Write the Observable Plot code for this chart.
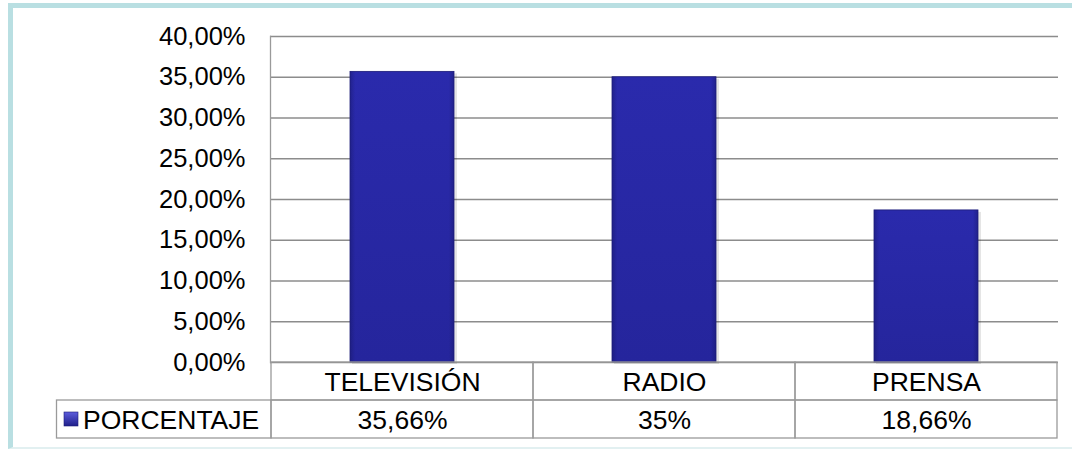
<!DOCTYPE html>
<html><head><meta charset="utf-8">
<script src="https://cdn.jsdelivr.net/npm/d3@7"></script>
<script src="https://cdn.jsdelivr.net/npm/@observablehq/plot@0.6"></script>
<style>
body{margin:0;background:#fff;font-family:"Liberation Sans",Arial,sans-serif;}
#wrap{position:relative;width:1072px;height:450px;overflow:hidden;}
#frame{position:absolute;left:8px;top:3px;width:1100px;height:439px;border-left:5px solid #b9dfe2;border-top:5px solid #b9dfe2;border-bottom:2px solid #e2f0f1;}
#chart{position:absolute;left:0;top:0;}
</style></head><body>
<div id="wrap"><div id="frame"></div><div id="chart"></div></div>
<script>
const categories = ["TELEVISIÓN", "RADIO", "PRENSA"];
const values = [0.3566, 0.35, 0.1866];
const valueLabels = ["35,66%", "35%", "18,66%"];
const seriesName = "PORCENTAJE";
const yTicks = [0, 0.05, 0.10, 0.15, 0.20, 0.25, 0.30, 0.35, 0.40];

const data = categories.map((c, i) => ({category: c, value: values[i], label: valueLabels[i]}));
const fmt = v => (v * 100).toFixed(2).replace(".", ",") + "%";
const FS = 25.5;
const FS2 = 26.5;
const ROW = 38;
const barInset = 79;
const tableStroke = "#9a9a9a";

const chart = Plot.plot({
  width: 1072, height: 450,
  marginLeft: 270, marginRight: 14, marginTop: 36, marginBottom: 88,
  style: {fontFamily: "Liberation Sans, Arial, sans-serif", fontSize: FS + "px", color: "#000", background: "transparent", overflow: "visible"},
  x: {domain: categories, padding: 0, axis: null},
  y: {domain: [0, 0.4], ticks: yTicks, axis: null},
  marks: [
    Plot.gridY(yTicks, {stroke: "#8c8c8c", strokeOpacity: 1, strokeWidth: 1.3}),
    Plot.axisY({ticks: yTicks, tickFormat: fmt, tickSize: 0, tickPadding: 25, label: null, fontSize: FS, fill: "#000"}),
    Plot.frame({anchor: "left", stroke: tableStroke, strokeWidth: 1.3}),
    // bar shadow
    Plot.barY(data, {x: "category", y: "value", fill: "#000", fillOpacity: 0.10, insetLeft: barInset + 2, insetRight: barInset - 3, dy: 2}),
    Plot.barY(data, {x: "category", y: "value", fill: "url(#barGrad)", insetLeft: barInset, insetRight: barInset}),
    Plot.barY(data, {x: "category", y: "value", fill: "url(#barGradH)", insetLeft: barInset, insetRight: barInset}),
    Plot.tickY(data, {x: "category", y: "value", stroke: "url(#bevel)", strokeWidth: 7, dy: 3.5, insetLeft: barInset + 1, insetRight: barInset + 1}),
    Plot.barY(data, {x: "category", y: "value", fill: "none", stroke: "#1c1c78", strokeWidth: 0.8, insetLeft: barInset, insetRight: barInset}),
    // table rows
    Plot.barY(data, {x: "category", y1: () => 0, y2: () => 0, fill: "none", stroke: tableStroke, strokeWidth: 1.3, insetTop: 0, insetBottom: -ROW}),
    Plot.barY(data, {x: "category", y1: () => 0, y2: () => 0, fill: "none", stroke: tableStroke, strokeWidth: 1.3, insetTop: ROW, insetBottom: -2 * ROW}),
    Plot.text(data, {x: "category", text: "category", frameAnchor: "bottom", dy: ROW / 2 + 1, lineAnchor: "middle", fontSize: FS2, fill: "#000"}),
    Plot.text(data, {x: "category", text: "label", frameAnchor: "bottom", dy: ROW * 1.5 + 1, lineAnchor: "middle", fontSize: FS2, fill: "#000"})
  ]
});

const svg = d3.select(chart);
const defs = svg.insert("defs", ":first-child");
const g1 = defs.append("linearGradient").attr("id", "barGrad").attr("x1", 0).attr("y1", 0).attr("x2", 0).attr("y2", 1);
g1.append("stop").attr("offset", "0%").attr("stop-color", "#2a2aac");
g1.append("stop").attr("offset", "100%").attr("stop-color", "#25259c");
const g2 = defs.append("linearGradient").attr("id", "barGradH").attr("x1", 0).attr("y1", 0).attr("x2", 1).attr("y2", 0);
g2.append("stop").attr("offset", "0%").attr("stop-color", "#15155e").attr("stop-opacity", 0.4);
g2.append("stop").attr("offset", "5%").attr("stop-color", "#15155e").attr("stop-opacity", 0);
g2.append("stop").attr("offset", "95%").attr("stop-color", "#15155e").attr("stop-opacity", 0);
g2.append("stop").attr("offset", "100%").attr("stop-color", "#15155e").attr("stop-opacity", 0.4);
const g4 = defs.append("linearGradient").attr("id", "bevel").attr("x1", 0).attr("y1", 0).attr("x2", 1).attr("y2", 0);
g4.append("stop").attr("offset", "0%").attr("stop-color", "#3a3ac0").attr("stop-opacity", 0.3);
g4.append("stop").attr("offset", "6%").attr("stop-color", "#4a4ad0");
g4.append("stop").attr("offset", "94%").attr("stop-color", "#4a4ad0");
g4.append("stop").attr("offset", "100%").attr("stop-color", "#3a3ac0").attr("stop-opacity", 0.3);
const g3 = defs.append("linearGradient").attr("id", "legGrad").attr("x1", 0).attr("y1", 0).attr("x2", 0).attr("y2", 1);
g3.append("stop").attr("offset", "0%").attr("stop-color", "#5c5cdc");
g3.append("stop").attr("offset", "100%").attr("stop-color", "#1f1f8a");

// legend cell of the data table
const x = chart.scale("x");
const left = x.apply(categories[0]);
const yScale = chart.scale("y");
const y0 = yScale.apply(0);
const leg = svg.append("g").attr("text-anchor", "start");
leg.append("rect").attr("x", 56.5).attr("y", y0 + ROW).attr("width", left - 56.5).attr("height", ROW)
  .attr("fill", "none").attr("stroke", tableStroke).attr("stroke-width", 1.3);
leg.append("rect").attr("x", 64).attr("y", y0 + ROW + 12).attr("width", 14).attr("height", 14)
  .attr("fill", "url(#legGrad)").attr("stroke", "#1c1c78").attr("stroke-width", 0.6);
leg.append("text").attr("x", 83).attr("y", y0 + ROW * 1.5 + 1).attr("dominant-baseline", "central")
  .attr("text-anchor", "start").attr("font-size", FS2).attr("fill", "#000").text(seriesName);

document.getElementById("chart").appendChild(chart);
</script>
</body></html>
